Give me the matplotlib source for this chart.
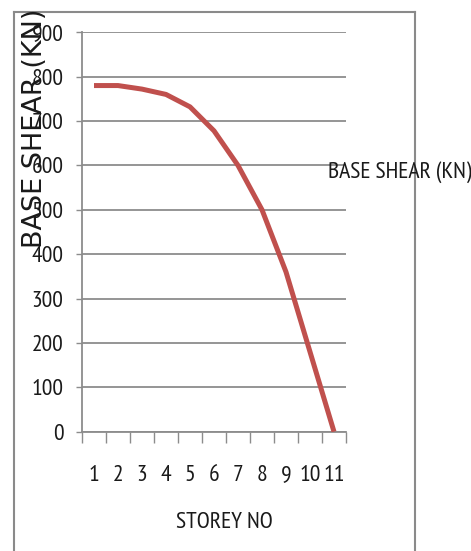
import matplotlib
matplotlib.use("Agg")
import matplotlib.pyplot as plt
from matplotlib.lines import Line2D

storey = [1, 2, 3, 4, 5, 6, 7, 8, 9, 10, 11]
base_shear = [780, 780, 772, 760, 732, 678, 600, 500, 360, 180, 0]
yticks = [0, 100, 200, 300, 400, 500, 600, 700, 800, 900]

narrow = ['PT Sans Narrow', 'DejaVu Sans']
grey = '#8c8c8c'

fig = plt.figure(figsize=(4.71, 5.51), dpi=100)
ax = fig.add_axes([82 / 471, 1 - 431.7 / 551, 264 / 471, 399.4 / 551])

ax.plot(storey, base_shear, color='#c0504d', linewidth=3.6,
        solid_joinstyle='round', solid_capstyle='butt', zorder=3)

ax.set_xlim(0.5, 11.5)
ax.set_ylim(0, 900)
ax.set_yticks(yticks)
ax.set_xticks(storey)
ax.set_xticks([i + 0.5 for i in range(0, 12)], minor=True)
ax.grid(axis='y', color=grey, linewidth=1.3)
ax.set_axisbelow(True)

for s in ['top', 'right']:
    ax.spines[s].set_visible(False)
for s in ['left', 'bottom']:
    ax.spines[s].set_color(grey)
    ax.spines[s].set_linewidth(1.3)

ax.tick_params(axis='y', length=4.3, width=1.0, color=grey, pad=9,
               labelsize=17)
ax.tick_params(axis='x', which='major', length=0, pad=24, labelsize=17)
ax.tick_params(axis='x', which='minor', length=8, width=1.0, color=grey)
for lab in ax.get_xticklabels() + ax.get_yticklabels():
    lab.set_family(narrow)
    lab.set_color('#1a1a1a')

# axis titles
fig.text(224 / 471, 1 - 522 / 551, 'STOREY NO', ha='center', va='center',
         fontsize=17, family=narrow, color='#1a1a1a')
fig.text(35 / 471, 1 - 128 / 551, 'BASE SHEAR (KN)', ha='center', va='center',
         rotation=90, fontsize=19.5, family='DejaVu Sans', color='#1a1a1a')

# legend text
fig.text(328 / 471, 1 - 172 / 551, 'BASE SHEAR (KN)', ha='left', va='center',
         fontsize=17, family=narrow, color='#1a1a1a')

# chart area border
x0, x1 = 14 / 471, 415 / 471
ytop = 1 - 12 / 551
for xs, ys in [([x0, x1], [ytop, ytop]), ([x0, x0], [ytop, 0]), ([x1, x1], [ytop, 0])]:
    fig.add_artist(Line2D(xs, ys, color='#8a8a8a', linewidth=1.5))

plt.savefig('out.png', dpi=100)
plt.close()
